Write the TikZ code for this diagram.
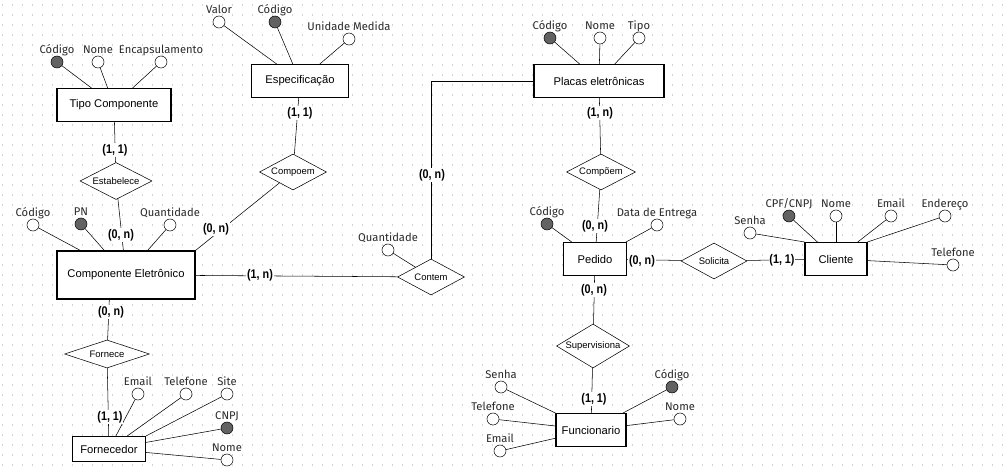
\documentclass[tikz,border=0pt]{standalone}
\usepackage{fontspec}
\setmainfont{Liberation Sans}
\newfontfamily\attrfont{Fira Sans}
\newfontfamily\cardfont[FakeStretch=0.86]{Liberation Sans}
\usetikzlibrary{shapes.geometric,calc,positioning}
\newdimen\pxu \pxu=0.75pt
\definecolor{lncol}{HTML}{3A3A3A}
\definecolor{keycol}{HTML}{626262}
\definecolor{gridcol}{HTML}{D4D4D4}
\definecolor{labcol}{HTML}{2A2A2A}
\tikzset{
    x=0.75pt, y=-0.75pt, line width=0.75pt, draw=lncol,
    entity/.style ={rectangle, draw, fill=white, line width=0.8pt, inner sep=0pt, text=black, font=\fontsize{8.4}{10}\selectfont},
    rel/.style ={diamond, draw, fill=white, aspect=2, inner sep=0pt, text=black, font=\fontsize{7.1}{8}\selectfont},
    attr/.style = {circle, draw, fill=white, minimum size=12\pxu, inner sep=0pt, label={[lab]above:#1}},
    keyattr/.style = {attr=#1, fill=keycol},
    lab/.style = {inner sep=0pt, text=labcol, text depth=1.8pt, font=\attrfont\fontsize{8.4}{10}\selectfont},
    card/.style = {fill=white, inner sep=0.6pt, text=black, font=\cardfont\bfseries\fontsize{9.4}{10}\selectfont}
}
\begin{document}
\begin{tikzpicture}
    \useasboundingbox[fill=white] (0,0) rectangle (1003,470);
    \foreach \yy in {5,15,...,465}
        \draw[gridcol, line width=0.8pt, dash pattern=on 0.8pt off 6.7pt] (2,\yy) -- (1003,\yy);

    % entidades
    \node[entity, minimum width=114\pxu, minimum height=33\pxu] (tc) at (114,105) {Tipo Componente};
    \node[entity, minimum width=97\pxu, minimum height=33\pxu] (es) at (300,81) {Especificação};
    \node[entity, minimum width=138\pxu, minimum height=48\pxu] (ce) at (126,275) {Componente Eletrônico};
    \node[entity, minimum width=130\pxu, minimum height=33\pxu] (pl) at (599,81) {Placas eletrônicas};
    \node[entity, minimum width=63\pxu, minimum height=33\pxu] (pe) at (595,259) {Pedido};
    \node[entity, minimum width=62\pxu, minimum height=33\pxu] (cl) at (836,259) {Cliente};
    \node[entity, minimum width=70\pxu, minimum height=33\pxu] (fu) at (591,430) {Funcionario};
    \node[entity, minimum width=73\pxu, minimum height=25\pxu] (fo) at (109,449) {Fornecedor};

    % relacionamentos
    \node[rel, minimum width=72\pxu, minimum height=37\pxu] (est) at (116,181) {Estabelece};
    \node[rel, minimum width=67\pxu, minimum height=36\pxu] (cpm) at (293,172) {Compoem};
    \node[rel, minimum width=67\pxu, minimum height=36\pxu] (ctm) at (431,277) {Contem};
    \node[rel, minimum width=69\pxu, minimum height=36\pxu] (cpo) at (601,172) {Compõem};
    \node[rel, minimum width=66\pxu, minimum height=36\pxu] (sol) at (714,261) {Solicita};
    \node[rel, aspect=1.66, minimum width=73\pxu, minimum height=44\pxu] (sup) at (593,346) {Supervisiona};
    \node[rel, aspect=3, minimum width=85\pxu, minimum height=28\pxu] (frn) at (107,354) {Fornece};

    % atributos
    \node[keyattr=Código] (tcCod) at (57,62) {};
    \node[attr=Nome] (tcNom) at (98,62) {};
    \node[attr=Encapsulamento] (tcEnc) at (161,62) {};
    \node[attr=Valor] (esVal) at (219,22) {};
    \node[keyattr=Código] (esCod) at (275,22) {};
    \node[attr=Unidade Medida] (esUni) at (349,39) {};
    \node[attr=Código] (ceCod) at (33,225) {};
    \node[keyattr=PN] (cePN) at (81,224) {};
    \node[attr=Quantidade] (ceQtd) at (170,225) {};
    \node[attr=Quantidade] (ctQtd) at (388,250) {};
    \node[keyattr=Código] (plCod) at (550,38) {};
    \node[attr=Nome] (plNom) at (600,38) {};
    \node[attr=Tipo] (plTip) at (639,38) {};
    \node[keyattr=Código] (peCod) at (547,224) {};
    \node[attr=Data de Entrega] (peDat) at (657,225) {};
    \node[attr=Senha] (clSen) at (750,233) {};
    \node[keyattr=CPF/CNPJ] (clCpf) at (789,216) {};
    \node[attr=Nome] (clNom) at (836,216) {};
    \node[attr=Email] (clEma) at (891,216) {};
    \node[attr=Endereço] (clEnd) at (945,216) {};
    \node[attr=Telefone] (clTel) at (953,265) {};
    \node[attr=Senha] (fuSen) at (501,387) {};
    \node[attr=Telefone] (fuTel) at (493,419) {};
    \node[attr=Email] (fuEma) at (500,451) {};
    \node[keyattr=Código] (fuCod) at (672,387) {};
    \node[attr=Nome] (fuNom) at (680,419) {};
    \node[attr=Email] (foEma) at (138,394) {};
    \node[attr=Telefone] (foTel) at (186,394) {};
    \node[attr=Site] (foSit) at (227,394) {};
    \node[keyattr=CNPJ] (foCnp) at (227,428) {};
    \node[attr=Nome] (foNom) at (227,460) {};

    \foreach \a/\b in {tcCod/tc, tcNom/tc, tcEnc/tc, esVal/es, esCod/es, esUni/es,
        ceCod/ce, cePN/ce, ceQtd/ce, ctQtd/ctm, plCod/pl, plNom/pl, plTip/pl,
        peCod/pe, peDat/pe, clSen/cl.north west, clCpf/cl, clNom/cl, clEma/cl,
        clEnd/cl.north east, clTel/cl, fuSen/fu, fuTel/fu, fuEma/fu, fuCod/fu,
        fuNom/fu, foEma/fo, foTel/fo, foSit/fo.north east, foCnp/fo, foNom/fo}
        \draw (\a) -- (\b);

    \draw (tc) -- (est);
    \draw (est) -- (ce);
    \draw (es) -- (cpm);
    \draw (cpm) -- (ce.north east);
    \draw (ce) -- (ctm);
    \draw (ctm.north) |- (pl.west);
    \draw (pl) -- (cpo);
    \draw (cpo) -- (pe);
    \draw (pe) -- (sol);
    \draw (sol) -- (cl);
    \draw (pe) -- (sup);
    \draw (sup) -- (fu);
    \draw ($(ce.south west)!0.38!(ce.south east)$) -- (frn);
    \draw (frn) -- (fo);

    % cardinalidades
    \node[card] (c1) at (115,150) {(1, 1)};
    \node[card] (c2) at (121,235) {(0, n)};
    \node[card] (c3) at (300,113) {(1, 1)};
    \node[card] (c4) at (216,229) {(0, n)};
    \node[card] (c5) at (260,275) {(1, n)};
    \node[card] (c6) at (432,175) {(0, n)};
    \node[card] (c7) at (600,113) {(1, n)};
    \node[card] (c8) at (595,226) {(0, n)};
    \node[card] (c9) at (642,261) {(0, n)};
    \node[card] (c10) at (782,260) {(1, 1)};
    \node[card] (c11) at (594,290) {(0, n)};
    \node[card] (c12) at (594,399) {(1, 1)};
    \node[card] (c13) at (111,312) {(0, n)};
    \node[card] (c14) at (110,417) {(1, 1)};
\end{tikzpicture}
\end{document}
